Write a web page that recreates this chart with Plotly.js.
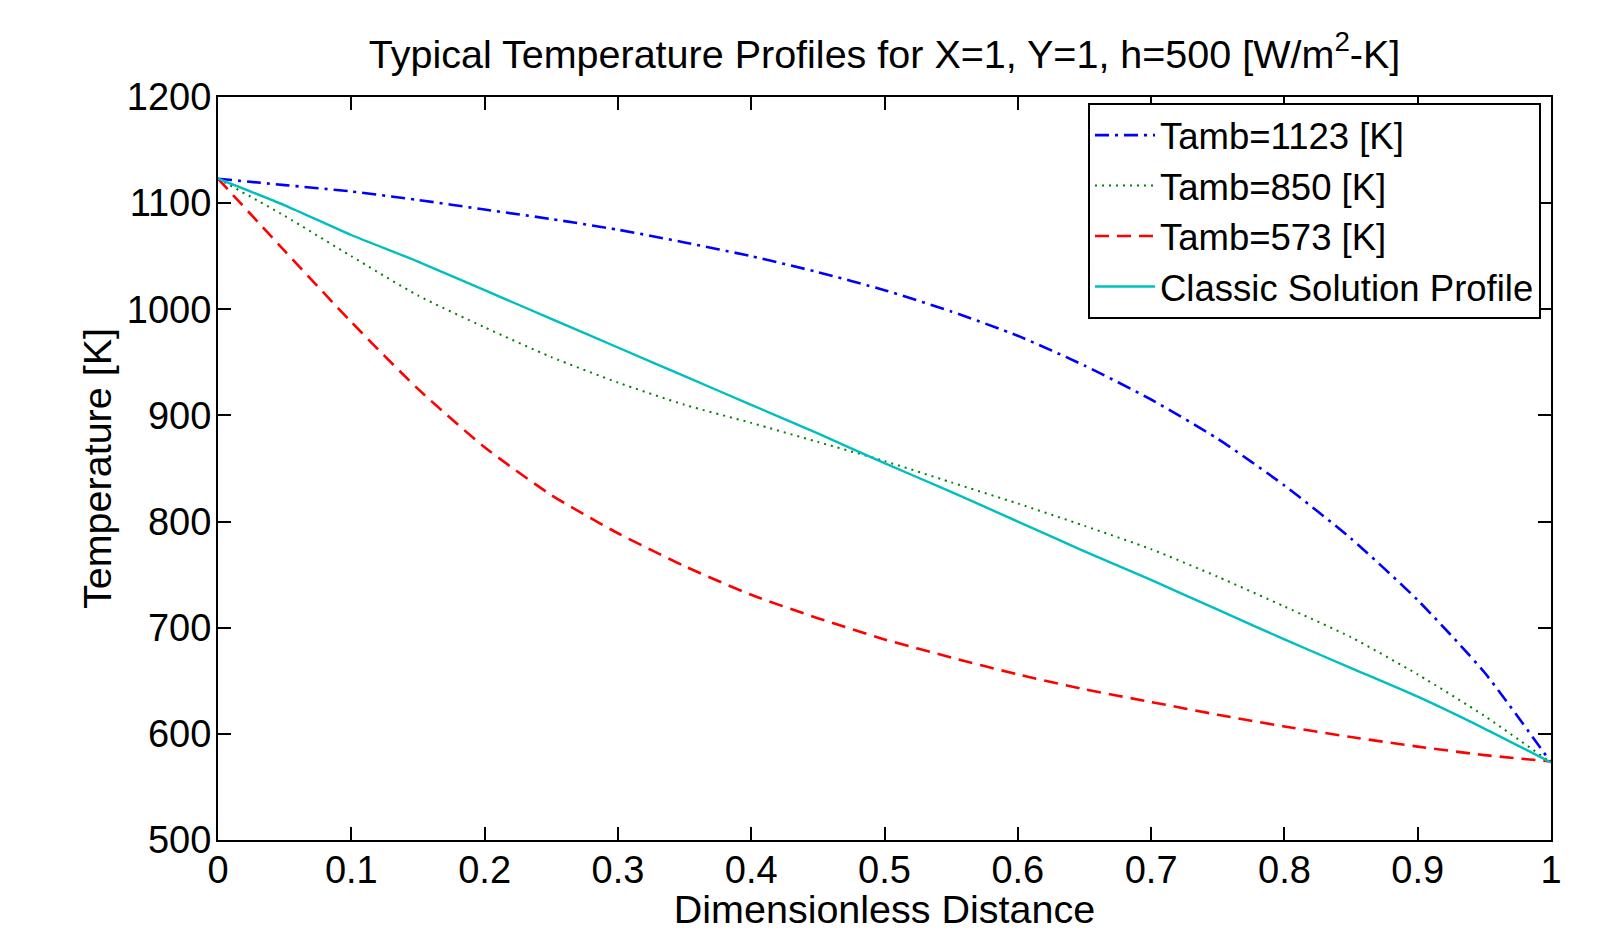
<!DOCTYPE html>
<html>
<head>
<meta charset="utf-8">
<script src="https://cdn.plot.ly/plotly-3.0.1.min.js"></script>
<style>html,body{margin:0;padding:0;background:#fff;}#chart{width:1598px;height:931px;}</style>
</head>
<body>
<div id="chart"></div>
<script>
const distance = [0, 0.05, 0.1, 0.15, 0.2, 0.25, 0.3, 0.35, 0.4, 0.45, 0.5, 0.55, 0.6, 0.65, 0.7, 0.75, 0.8, 0.85, 0.9, 0.95, 1.0];
const tamb1123 = [1123, 1117, 1111, 1103, 1094, 1085, 1075, 1063, 1050, 1035, 1018, 998, 975, 947, 915, 878, 834, 784, 726, 658, 573];
const tamb850  = [1123, 1088, 1050, 1013, 983, 955, 931, 910, 893, 875, 857, 837, 817, 796, 774, 748, 720, 691, 656, 617, 573];
const tamb573  = [1123, 1055, 988, 925, 870, 825, 789, 758, 731, 709, 689, 672, 656, 642, 630, 618, 607, 597, 588, 580, 574];
const classic  = [1123, 1098, 1070, 1045, 1018, 991, 964, 937, 910, 883, 855, 828, 800, 772, 745, 717, 689, 662, 635, 605, 573];
const seriesNames = ['Tamb=1123 [K]', 'Tamb=850 [K]', 'Tamb=573 [K]', 'Classic Solution Profile'];
const xTicks = [0, 0.1, 0.2, 0.3, 0.4, 0.5, 0.6, 0.7, 0.8, 0.9, 1];
const yTicks = [500, 600, 700, 800, 900, 1000, 1100, 1200];

const FONT = 'Liberation Sans, Arial, Helvetica, sans-serif';
const traces = [
  {x: distance, y: tamb1123, name: seriesNames[0], mode: 'lines', line: {color: '#0000ff', width: 2.6, dash: '14px,6px,3px,6px', shape: 'spline', smoothing: 0.6}},
  {x: distance, y: tamb850, name: seriesNames[1], mode: 'lines', line: {color: '#008000', width: 2, dash: '2px,5px', shape: 'spline', smoothing: 0.6}},
  {x: distance, y: tamb573, name: seriesNames[2], mode: 'lines', line: {color: '#ff0000', width: 2.6, dash: '14px,8px', shape: 'spline', smoothing: 0.6}},
  {x: distance, y: classic, name: seriesNames[3], mode: 'lines', line: {color: '#00bfbf', width: 2.4, shape: 'spline', smoothing: 0.6}}
];
const axisCommon = {
  showgrid: false, zeroline: false, showline: true, linecolor: '#000', linewidth: 2,
  mirror: 'ticks', ticks: 'inside', ticklen: 13, tickwidth: 2, tickcolor: '#000',
  tickfont: {family: FONT, size: 38, color: '#000'}
};
const layout = {
  width: 1598, height: 931,
  paper_bgcolor: '#fff', plot_bgcolor: '#fff',
  margin: {l: 218, r: 47, t: 97, b: 91},
  font: {family: FONT, size: 38, color: '#000'},
  title: {text: 'Typical Temperature Profiles for X=1, Y=1, h=500 [W/m<sup>2</sup>-K]',
          font: {family: FONT, size: 39.5, color: '#000'},
          x: 0.5535, xanchor: 'center', y: 1 - 54/931, yanchor: 'middle', yref: 'container'},
  xaxis: Object.assign({}, axisCommon, {
    range: [0, 1], tickvals: xTicks, ticktext: xTicks.map(String), ticklabelstandoff: -5,
    title: {text: 'Dimensionless Distance', font: {family: FONT, size: 39.5, color: '#000'}, standoff: 0}
  }),
  yaxis: Object.assign({}, axisCommon, {
    range: [500, 1200], tickvals: yTicks, ticktext: yTicks.map(String), ticklabelstandoff: -3,
    title: {text: 'Temperature [K]', font: {family: FONT, size: 39.5, color: '#000'}, standoff: 3}
  }),
  showlegend: true,
  legend: {x: 0.9925, y: 0.992, xanchor: 'right', yanchor: 'top',
           bgcolor: '#fff', bordercolor: '#000', borderwidth: 2,
           font: {family: FONT, size: 36.5, color: '#000'}, tracegroupgap: 0, itemwidth: 60}
};
Plotly.newPlot('chart', traces, layout, {displayModeBar: false, staticPlot: true});
</script>
</body>
</html>
